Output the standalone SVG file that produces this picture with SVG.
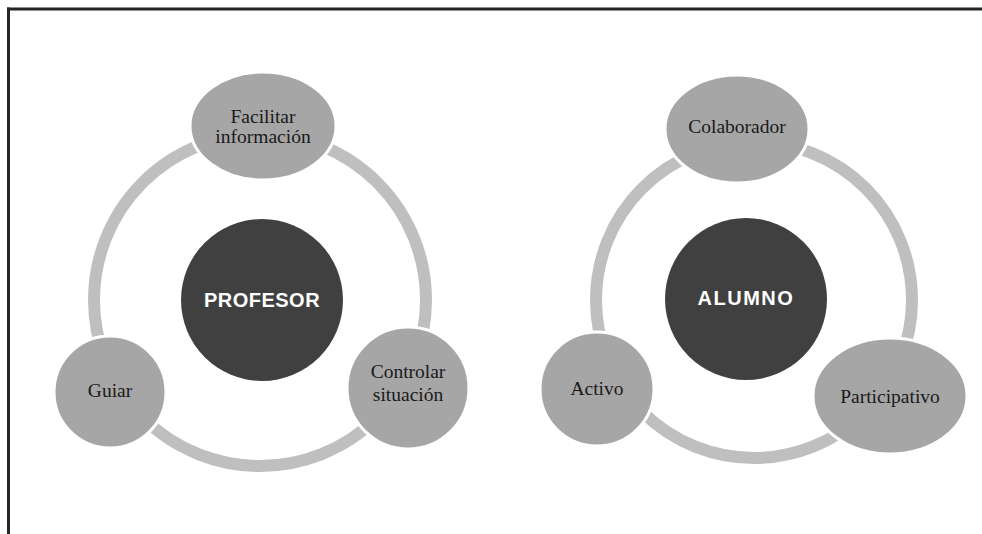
<svg xmlns="http://www.w3.org/2000/svg" width="982" height="534" viewBox="0 0 982 534">
<style>
.ring{fill:none;stroke:#bfbfbf;stroke-width:12}
.sat{fill:#a6a6a6;stroke:#ffffff;stroke-width:3}
.core{fill:#404040}
.lbl{font-family:"Liberation Serif","Times New Roman",serif;font-size:19.5px;fill:#1a1a1a;text-anchor:middle}
.clbl{font-family:"Liberation Sans",Arial,sans-serif;font-size:20px;font-weight:bold;fill:#ffffff;text-anchor:middle}
</style>
<rect width="982" height="534" fill="#ffffff"/>
<g id="frame">
<line x1="7" y1="9" x2="982" y2="9" stroke="#262626" stroke-width="3"/>
<line x1="8.5" y1="7.5" x2="8.5" y2="534" stroke="#262626" stroke-width="3"/>
</g>
<g id="connectors">
<circle class="ring" cx="260" cy="300" r="166"/>
<circle class="ring" cx="754" cy="300" r="158"/>
</g>
<g id="profesor">
<circle class="core" cx="262" cy="300" r="81"/>
<text class="clbl" x="262" y="307" letter-spacing="0.5">PROFESOR</text>
</g>
<g id="facilitar">
<ellipse class="sat" cx="263" cy="126" rx="73" ry="54"/>
<text class="lbl" x="263" y="123">Facilitar</text>
<text class="lbl" x="263" y="143">información</text>
</g>
<g id="guiar">
<circle class="sat" cx="110" cy="392" r="56"/>
<text class="lbl" x="110" y="397">Guiar</text>
</g>
<g id="controlar">
<circle class="sat" cx="408" cy="388" r="61"/>
<text class="lbl" x="408" y="378">Controlar</text>
<text class="lbl" x="408" y="401">situación</text>
</g>
<g id="alumno">
<circle class="core" cx="746" cy="299" r="81"/>
<text class="clbl" x="746" y="305" letter-spacing="1.5">ALUMNO</text>
</g>
<g id="colaborador">
<ellipse class="sat" cx="737" cy="129" rx="72" ry="54"/>
<text class="lbl" x="737" y="133">Colaborador</text>
</g>
<g id="participativo">
<ellipse class="sat" cx="890" cy="396" rx="77" ry="58"/>
<text class="lbl" x="890" y="403">Participativo</text>
</g>
<g id="activo">
<circle class="sat" cx="597" cy="389" r="57"/>
<text class="lbl" x="597" y="395">Activo</text>
</g>
</svg>
